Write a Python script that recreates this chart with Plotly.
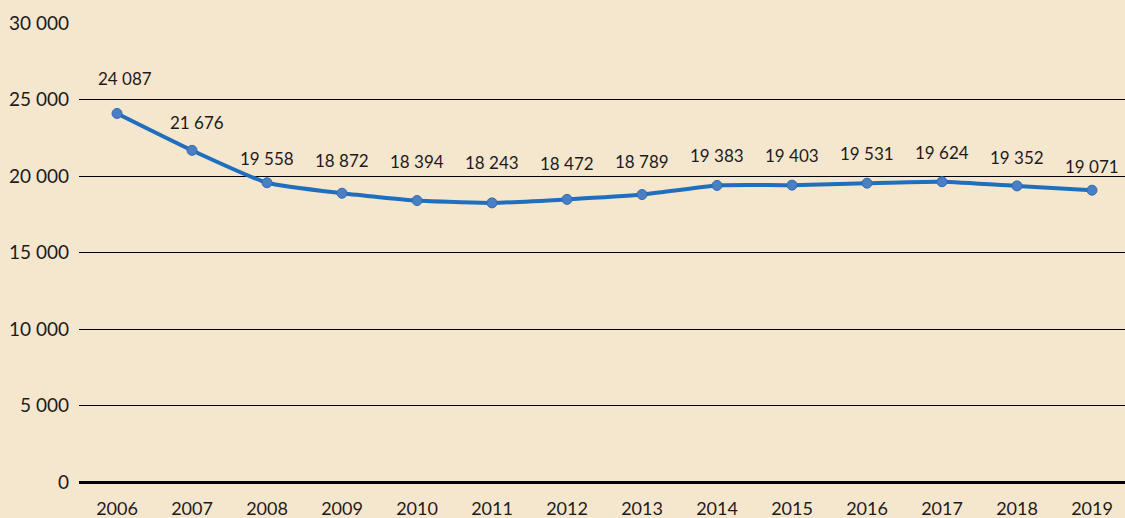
import plotly.graph_objects as go

years = ["2006", "2007", "2008", "2009", "2010", "2011", "2012",
         "2013", "2014", "2015", "2016", "2017", "2018", "2019"]
values = [24087, 21676, 19558, 18872, 18394, 18243, 18472,
          18789, 19383, 19403, 19531, 19624, 19352, 19071]
y_tickvals = [0, 5000, 10000, 15000, 20000, 25000, 30000]
y_ticktext = ["0", "5 000", "10 000", "15 000", "20 000", "25 000", "30 000"]

# style: pixel offsets of value labels relative to their points
label_yshift = [35, 28, 24, 33, 39, 40, 36, 33, 30, 30, 30, 29, 28, 24]
label_xshift = [8, 5, 0, 0, 0, 0, 0, 0, 0, 0, 0, 0, 0, 0]

BG = "#F5E6CE"
TXT = "#1E1B1C"
FONT = "Lato"


def fmt(v):
    return f"{v:,}".replace(",", " ")


fig = go.Figure()
fig.add_trace(go.Scatter(
    x=years, y=values, mode="lines+markers",
    line=dict(color="#1F6FBE", width=4, shape="spline", smoothing=0.5),
    marker=dict(size=10, color="#4A7FC3", line=dict(color="#2F6DB5", width=1)),
    hoverinfo="x+y", showlegend=False,
))

annotations = []
for i, v in enumerate(values):
    annotations.append(dict(
        x=i, y=v, xref="x", yref="y", text=fmt(v), showarrow=False,
        yshift=label_yshift[i], xshift=label_xshift[i],
        yanchor="middle", xanchor="center",
        font=dict(family=FONT, size=17, color=TXT),
    ))

fig.update_layout(
    width=1125, height=518,
    paper_bgcolor=BG, plot_bgcolor=BG,
    margin=dict(l=79, r=0, t=23, b=36),
    font=dict(family=FONT, size=17, color=TXT),
    annotations=annotations,
    xaxis=dict(
        type="category", range=[-0.507, 13.44],
        showgrid=False, zeroline=False, showline=False,
        ticks="", ticklabelstandoff=14,
        tickfont=dict(family=FONT, size=18, color=TXT),
    ),
    yaxis=dict(
        range=[0, 30000], tickvals=y_tickvals, ticktext=y_ticktext,
        showgrid=True, gridcolor="#000000", gridwidth=1.2,
        zeroline=True, zerolinecolor="#000000", zerolinewidth=2.5,
        showline=False, ticks="", ticklabelstandoff=9,
        tickfont=dict(family=FONT, size=19, color=TXT),
    ),
)

fig.write_html(
    "out.html",
    config={"displayModeBar": False},
    post_script="document.body.style.margin='0';document.body.style.background='" + BG + "';",
)
